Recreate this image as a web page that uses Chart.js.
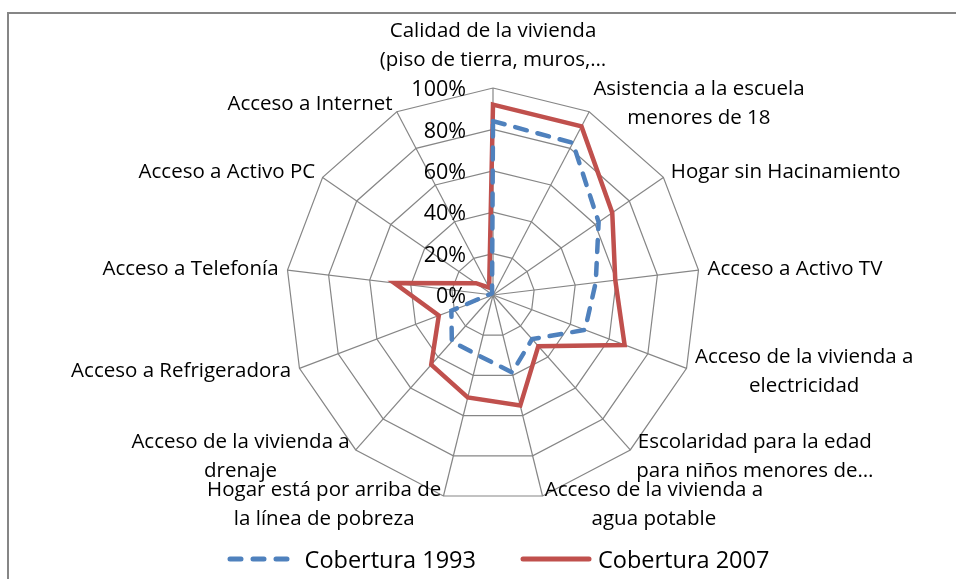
<!DOCTYPE html>
<html lang="es">
<head>
    <meta charset="UTF-8">
    <title>Cobertura 1993 vs 2007</title>
    <script src="https://cdn.jsdelivr.net/npm/chart.js@4.4.0/dist/chart.umd.min.js"></script>
    <style>
        body {
            margin: 0;
            background-color: #fff;
            font-family: 'Open Sans', sans-serif;
            overflow: hidden;
        }
        .frame {
            position: absolute;
            left: 7px;
            top: 12px;
            width: 1000px;
            height: 700px;
            border: 2px solid #868686;
        }
        #radar {
            position: absolute;
            left: 0;
            top: 0;
        }
        .legend {
            position: absolute;
            left: 20px;
            top: 543px;
            width: 956px;
            height: 32px;
            display: flex;
            justify-content: center;
            align-items: center;
            font-size: 23.5px;
            color: #000;
        }
        .legend-item {
            display: flex;
            align-items: center;
            margin: 0 22px;
        }
        .legend-item svg {
            margin-right: 6px;
        }
    </style>
</head>
<body>
    <div class="frame"></div>
    <canvas id="radar" width="956" height="579"></canvas>
    <div class="legend" id="legend"></div>

    <script>
        // categories, clockwise from the top
        const categories = [
            ['Calidad de la vivienda', '(piso de tierra, muros,…'],
            ['Asistencia a la escuela', 'menores de 18'],
            ['Hogar sin Hacinamiento'],
            ['Acceso a Activo TV'],
            ['Acceso de la vivienda a', 'electricidad'],
            ['Escolaridad para la edad', 'para niños menores de…'],
            ['Acceso de la vivienda a', 'agua potable'],
            ['Hogar está por arriba de', 'la línea de pobreza'],
            ['Acceso de la vivienda a', 'drenaje'],
            ['Acceso a Refrigeradora'],
            ['Acceso a Telefonía'],
            ['Acceso a Activo PC'],
            ['Acceso a Internet']
        ];

        // percent values
        const cobertura1993 = [84, 83, 62, 50, 47.5, 28.5, 38.5, 30, 30, 21.5, 2, 1, 1];
        const cobertura2007 = [92, 92, 70, 59.5, 68, 33, 55, 51, 45, 28, 48, 10, 4];

        const seriesNames = ['Cobertura 1993', 'Cobertura 2007'];
        const seriesColors = ['#4F81BD', '#C0504D'];

        const labelFont = '20.5px "Open Sans"';
        const tickFont = '21.5px "Open Sans"';

        // tick labels to the left of the vertical axis, like Excel
        const tickLabelPlugin = {
            id: 'tickLabels',
            beforeDatasetsDraw(chart) {
                const scale = chart.scales.r;
                const ctx = chart.ctx;
                ctx.save();
                ctx.font = tickFont;
                ctx.fillStyle = '#000';
                ctx.textAlign = 'right';
                ctx.textBaseline = 'middle';
                scale.ticks.forEach(t => {
                    const d = scale.getDistanceFromCenterForValue(t.value);
                    ctx.fillText(t.value + '%', scale.xCenter - 27, scale.yCenter - d + 2);
                });
                ctx.restore();
            }
        };

        // category labels placed just outside each spoke
        const pointLabelPlugin = {
            id: 'spokeLabels',
            afterDraw(chart) {
                const scale = chart.scales.r;
                const ctx = chart.ctx;
                const lineH = 29;
                const n = categories.length;
                ctx.save();
                ctx.font = labelFont;
                ctx.fillStyle = '#000';
                ctx.textAlign = 'center';
                ctx.textBaseline = 'middle';
                categories.forEach((lines, i) => {
                    const angle = i * 360 / n;
                    const p = scale.getPointPosition(i, scale.drawingArea + 9);
                    const blockW = Math.max(...lines.map(l => ctx.measureText(l).width));
                    const blockH = lines.length * lineH;
                    let cx, cy;
                    if (angle === 0) {
                        cx = p.x;
                        cy = p.y - 4 - blockH / 2;
                    } else if (angle < 180) {
                        cx = p.x + blockW / 2;
                        cy = p.y;
                    } else {
                        cx = p.x - blockW / 2;
                        cy = p.y;
                    }
                    lines.forEach((l, k) => {
                        ctx.fillText(l, cx, cy + (k - (lines.length - 1) / 2) * lineH);
                    });
                });
                ctx.restore();
            }
        };

        const ctx = document.getElementById('radar').getContext('2d');
        const chart = new Chart(ctx, {
            type: 'radar',
            data: {
                labels: categories,
                datasets: [
                    {
                        label: seriesNames[0],
                        data: cobertura1993,
                        borderColor: seriesColors[0],
                        backgroundColor: 'transparent',
                        borderWidth: 4.5,
                        borderDash: [12, 11],
                        borderCapStyle: 'round',
                        pointRadius: 0,
                        fill: false
                    },
                    {
                        label: seriesNames[1],
                        data: cobertura2007,
                        borderColor: seriesColors[1],
                        backgroundColor: 'transparent',
                        borderWidth: 4.5,
                        pointRadius: 0,
                        fill: false
                    }
                ]
            },
            options: {
                responsive: false,
                animation: false,
                layout: {
                    padding: { left: 286, right: 256, top: 88, bottom: 77 }
                },
                plugins: {
                    legend: { display: false },
                    tooltip: { enabled: false }
                },
                scales: {
                    r: {
                        min: 0,
                        max: 100,
                        ticks: { stepSize: 20, display: false },
                        pointLabels: { display: false },
                        grid: { color: '#868686', lineWidth: 1.2 },
                        angleLines: { color: '#868686', lineWidth: 1.2 }
                    }
                }
            },
            plugins: [tickLabelPlugin, pointLabelPlugin]
        });

        // legend with line samples
        function createLegend() {
            const box = document.getElementById('legend');
            seriesNames.forEach((name, i) => {
                const item = document.createElement('div');
                item.className = 'legend-item';
                const dash = i === 0 ? 'stroke-dasharray="11 12"' : '';
                item.innerHTML =
                    '<svg width="72" height="10"><line x1="3" y1="5" x2="69" y2="5" stroke="' +
                    seriesColors[i] + '" stroke-width="5" stroke-linecap="round" ' + dash + '/></svg>' +
                    '<span>' + name + '</span>';
                box.appendChild(item);
            });
        }
        createLegend();
    </script>
</body>
</html>
